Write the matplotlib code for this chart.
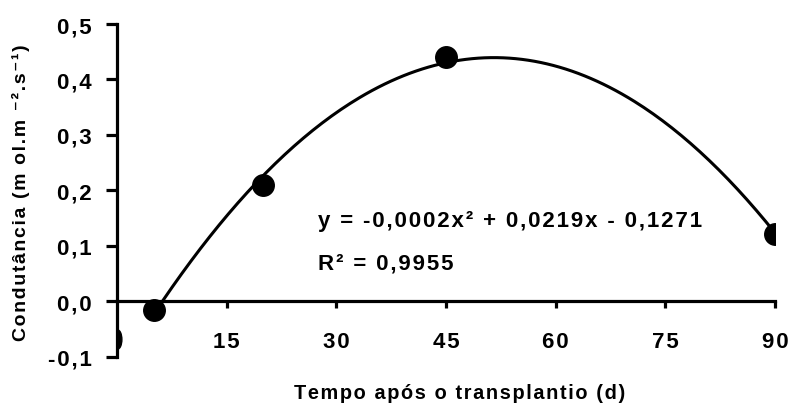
import numpy as np
import matplotlib.pyplot as plt
from matplotlib.markers import MarkerStyle
from matplotlib.transforms import Affine2D

plt.rcParams['font.family'] = ['Liberation Sans', 'DejaVu Sans']
plt.rcParams['font.weight'] = 'bold'

# dados
dias = [5, 20, 45, 90]
condutancia = [-0.015, 0.21, 0.44, 0.122]
dia_zero = [0]
cond_zero = [-0.068]

xticks = [15, 30, 45, 60, 75, 90]
yticks = [-0.1, 0.0, 0.1, 0.2, 0.3, 0.4, 0.5]
equacao = "y = -0,0002x² + 0,0219x - 0,1271"
r2_txt = "R² = 0,9955"
xlabel = "Tempo após o transplantio (d)"
ylabel = "Condutância (m ol.m ⁻².s⁻¹)"


def espacar(txt):
    # espacamento entre letras, como no original
    return "\u200a".join(txt)


coef = np.polyfit(dias, condutancia, 2)
xs = np.linspace(5, 90, 200)
ys = np.polyval(coef, xs)

fig = plt.figure(figsize=(8.01, 4.10), dpi=100)
ax = fig.add_axes([0.146, 0.127, 0.8215, 0.812])

ax.plot(xs, ys, color="black", linewidth=2.2, zorder=3)
ax.plot(dias, condutancia, "o", color="black", markersize=15.5, zorder=4)
elipse = MarkerStyle("o", transform=Affine2D().scale(0.45, 1.0))
ax.plot(dia_zero, cond_zero, marker=elipse, color="black", markersize=14,
        linestyle="none", zorder=4)

ax.set_xlim(0, 90)
ax.set_ylim(-0.1, 0.5)

ax.spines["top"].set_visible(False)
ax.spines["right"].set_visible(False)
ax.spines["bottom"].set_position(("data", 0))
ax.spines["left"].set_linewidth(2.3)
ax.spines["bottom"].set_linewidth(2.3)

ax.set_xticks(xticks)
ax.set_xticklabels([espacar(str(t)) for t in xticks])
ax.set_yticks(yticks)
ax.set_yticklabels([espacar(f"{t:.1f}".replace(".", ",")) for t in yticks])
ax.tick_params(axis="x", direction="out", length=5, width=2.3,
               labelsize=16, pad=16)
ax.tick_params(axis="y", direction="out", length=8, width=2.3,
               labelsize=16, pad=10)

ax.text(27.5, 0.146, espacar(equacao), fontsize=16, fontweight="bold",
        va="center")
ax.text(27.5, 0.070, espacar(r2_txt), fontsize=16, fontweight="bold",
        va="center")

fig.text(0.574, 0.04, espacar(xlabel), ha="center", va="center",
         fontsize=14.3, fontweight="bold")
fig.text(0.026, 0.53, espacar(ylabel), rotation=90,
         ha="center", va="center", fontsize=14, fontweight="bold")

fig.savefig("out.png", dpi=100)
